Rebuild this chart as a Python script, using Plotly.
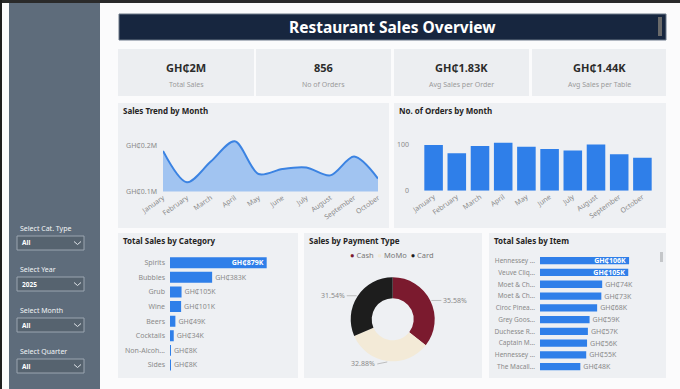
import math
import plotly.graph_objects as go

W, H = 680, 389
def X(p): return p / W
def Y(p): return 1 - p / H

FONT = "Noto Sans"
GRAY = "#8a8a8a"
DARK = "#252423"
BLUE = "#2f7fe9"
PANEL = "#eef0f3"

# ---------------- data ----------------
months = ["January", "February", "March", "April", "May", "June",
          "July", "August", "September", "October"]
sales_k = [188, 120, 165, 209, 138, 149, 152, 135, 176, 128]
orders = [100, 82, 98, 105, 96, 91, 88, 101, 80, 72]

categories = ["Spirits", "Bubbles", "Grub", "Wine", "Beers", "Cocktails",
              "Non-Alcoh...", "Sides"]
cat_sales_k = [879, 383, 105, 101, 49, 34, 8, 8]

pay_types = ["Cash", "MoMo", "Card"]
pay_share = [35.58, 32.88, 31.54]
pay_colors = ["#7b1a2e", "#f3ead7", "#1d1d1d"]

items = ["Hennessey ...", "Veuve Cliq...", "Moet & Ch...", "Moet & Ch...",
         "Ciroc Pinea...", "Grey Goos...", "Duchesse R...", "Captain M...",
         "Hennessey ...", "The Macall..."]
item_sales_k = [106, 105, 74, 73, 68, 59, 57, 56, 55, 48]

kpi_values = ["GH₵2M", "856", "GH₵1.83K", "GH₵1.44K"]
kpi_labels = ["Total Sales", "No of Orders", "Avg Sales per Order", "Avg Sales per Table"]

slicer_labels = ["Select Cat. Type", "Select Year", "Select Month", "Select Quarter"]
slicer_values = ["All", "2025", "All", "All"]

chart_titles = ["Sales Trend by Month", "No. of Orders by Month",
                "Total Sales by Category", "Sales by Payment Type", "Total Sales by Item"]

# ---------------- layout geometry (px) ----------------
panels = [(118, 103, 389, 228), (394, 103, 666, 228),
          (118, 233, 298, 378), (304, 233, 482, 378), (489, 233, 666, 378)]
cards = [(118, 49, 254, 96), (256, 49, 391, 96), (394, 49, 529, 96), (532, 49, 666, 96)]
slicer_label_y = [228, 269, 310, 351]
slicer_box_y = [236, 277, 318, 359]

shapes = []
def rect(x0, y0, x1, y1, fill, line=None, lw=0, layer="below"):
    shapes.append(dict(type="rect", xref="paper", yref="paper",
                       x0=X(x0), x1=X(x1), y0=Y(y1), y1=Y(y0),
                       fillcolor=fill, line=dict(color=line or fill, width=lw),
                       layer=layer))

rect(0, 0, W, H, "#fbfbfc")
rect(0, 0, W, 3, "#2a2a2a")
rect(0, 0, 2, H, "#1e1e1e")
rect(9, 3, 100, H, "#5e6c7b")
rect(119, 14, 666, 40, "#17263f", line="#6b7687", lw=1)
rect(658, 17, 662, 36, "#6a6a6a")
for c in cards:
    rect(*c, "#eceef1")
for p in panels:
    rect(*p, PANEL)
rect(660, 252, 663, 262, "#c4c6c9")

annotations = []
def text(x, y, s, size, color, bold=False, xanchor="left", yanchor="middle"):
    annotations.append(dict(x=X(x), y=Y(y), xref="paper", yref="paper", text=s,
                            showarrow=False, xanchor=xanchor, yanchor=yanchor,
                            font=dict(family=FONT, size=size, color=color,
                                      weight="bold" if bold else "normal")))

text(392.5, 27.5, "Restaurant Sales Overview", 15.5, "white", bold=True, xanchor="center")
for c, v, l in zip(cards, kpi_values, kpi_labels):
    cx = (c[0] + c[2]) / 2
    text(cx, 67, v, 11, "#2b2b2b", bold=True, xanchor="center")
    text(cx, 84, l, 7, "#9a9a9a", xanchor="center")

for ly, by, lab, val in zip(slicer_label_y, slicer_box_y, slicer_labels, slicer_values):
    text(18, ly, lab, 7, "#f2f4f6")
    rect(17, by, 84, by + 14, "#56636f", line="#9aa5b1", lw=1)
    text(20, by + 7, val, 6.5, "white", bold=True)
    shapes.append(dict(type="path", xref="paper", yref="paper",
                       path=f"M {X(74)} {Y(by+5.5)} L {X(77.5)} {Y(by+8.5)} L {X(81)} {Y(by+5.5)}",
                       line=dict(color="#dfe3e8", width=1)))

title_pos = [(121, 110), (397, 110), (121, 240), (307, 240), (492, 240)]
for (tx, ty), t in zip(title_pos, chart_titles):
    text(tx, ty, t, 8, DARK, bold=True)

fig = go.Figure()

# Sales trend area
fig.add_trace(go.Scatter(x=months, y=sales_k, mode="lines",
                         line=dict(shape="spline", smoothing=0.9, color="#3b83e2", width=2),
                         fill="tozeroy", fillcolor="#a1c4f1", xaxis="x", yaxis="y", hoverinfo="skip"))
# Orders bars
fig.add_trace(go.Bar(x=months, y=orders, marker=dict(color=BLUE), xaxis="x2", yaxis="y2"))
# Category bars
cat_pos = ["inside" if v > 500 else "outside" for v in cat_sales_k]
fig.add_trace(go.Bar(y=categories, x=cat_sales_k, orientation="h", marker=dict(color=BLUE),
                     text=[f"GH₵{v}K" for v in cat_sales_k], textposition=cat_pos,
                     insidetextanchor="end", constraintext="none", cliponaxis=False,
                     insidetextfont=dict(family=FONT, size=7, color="white", weight="bold"),
                     outsidetextfont=dict(family=FONT, size=7, color=GRAY),
                     xaxis="x3", yaxis="y3"))
# Item bars
item_idx = list(range(len(items)))
item_pos = ["inside" if v > 100 else "outside" for v in item_sales_k]
fig.add_trace(go.Bar(y=item_idx, x=item_sales_k, orientation="h", marker=dict(color=BLUE),
                     text=[f"GH₵{v}K" for v in item_sales_k], textposition=item_pos,
                     insidetextanchor="end", constraintext="none", cliponaxis=False,
                     insidetextfont=dict(family=FONT, size=7, color="white", weight="bold"),
                     outsidetextfont=dict(family=FONT, size=7, color=GRAY),
                     xaxis="x4", yaxis="y4"))

# Donut
pcx, pcy, pr = 392.7, 319.3, 42
fig.add_trace(go.Pie(labels=pay_types, values=pay_share, hole=0.5, sort=False, direction="clockwise",
                     rotation=0, marker=dict(colors=pay_colors), textinfo="none", showlegend=False,
                     domain=dict(x=[X(pcx - pr), X(pcx + pr)], y=[Y(pcy + pr), Y(pcy - pr)])))
cum = 0
tot = sum(pay_share)
for lab, v in zip(pay_types, pay_share):
    mid = (cum + v / 2) / tot * 2 * math.pi
    cum += v
    hx = pcx + (pr + 1) * math.sin(mid)
    hy = pcy - (pr + 1) * math.cos(mid)
    right = math.sin(mid) > 0
    annotations.append(dict(x=X(hx), y=Y(hy), xref="paper", yref="paper",
                            text=f"{v:.2f}%", showarrow=True, arrowhead=0, arrowwidth=0.8,
                            arrowcolor="#b0b0b0", ax=10 if right else -10, ay=2 if abs(math.cos(mid)) > 0.8 else 0,
                            xanchor="left" if right else "right", yanchor="middle",
                            font=dict(family=FONT, size=7, color=GRAY)))
legend_txt = "  ".join(f"<span style='color:{c}'>●</span> {l}" for c, l in zip(pay_colors, pay_types))
text(392, 255, legend_txt, 7.5, "#777777", xanchor="center")

tickf = dict(family=FONT, size=7, color=GRAY)
common = dict(showgrid=False, zeroline=False, showline=False, fixedrange=True, automargin=False)
fig.update_layout(
    template="none",
    width=W, height=H, autosize=False, margin=dict(l=0, r=0, t=0, b=0, pad=0),
    paper_bgcolor="#fbfbfc", plot_bgcolor="rgba(0,0,0,0)", showlegend=False,
    bargap=0.2, shapes=shapes, annotations=annotations,
    xaxis=dict(domain=[X(163), X(378)], anchor="y", type="category", range=[0, 9],
               tickangle=-35, tickfont=tickf, ticks="", **common),
    yaxis=dict(domain=[Y(191.5), Y(136)], anchor="x", range=[100, 220.6],
               tickvals=[100, 200], ticktext=["GH₵0.1M", "GH₵0.2M"], tickfont=tickf, ticks="",
               ticklabelstandoff=5, **common),
    xaxis2=dict(domain=[X(422), X(654)], anchor="y2", type="category", tickangle=-35,
                tickfont=tickf, ticks="", **common),
    yaxis2=dict(domain=[Y(190.7), Y(136)], anchor="x2", range=[0, 119.7], tickvals=[0, 100],
                tickfont=tickf, ticklabelstandoff=12, ticks="", **common),
    xaxis3=dict(domain=[X(170), X(280)], anchor="y3", range=[0, 1000], visible=False, **common),
    yaxis3=dict(domain=[Y(372.3), Y(255.4)], anchor="x3", autorange="reversed", type="category",
                tickfont=dict(family=FONT, size=7, color=GRAY), ticklabelstandoff=4, ticks="", **common),
    xaxis4=dict(domain=[X(540), X(640)], anchor="y4", range=[0, 119], visible=False, **common),
    yaxis4=dict(domain=[Y(372.6), Y(254.8)], anchor="x4", autorange="reversed",
                tickvals=item_idx, ticktext=items, ticks="",
                tickfont=dict(family=FONT, size=6.5, color=GRAY), ticklabelstandoff=4, **common),
)
fig.update_traces(selector=dict(type="bar"), hoverinfo="skip")
fig.data[2].update(width=0.75)
fig.data[3].update(width=0.62)
fig.write_html("out.html")
